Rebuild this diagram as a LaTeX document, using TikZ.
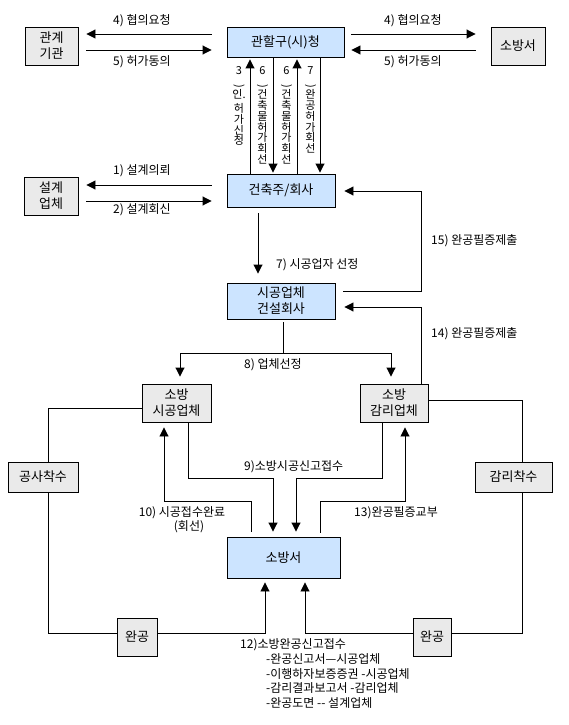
\documentclass[tikz,border=0pt]{standalone}
\usepackage{fontspec}
\setmainfont{Noto Sans CJK KR}
\usepackage{graphicx}
\usetikzlibrary{arrows.meta}
\definecolor{boxblue}{RGB}{204,228,255}
\definecolor{boxgray}{RGB}{234,234,234}
\begin{document}
\begin{tikzpicture}[x=1pt,y=-1pt,
  every node/.style={inner sep=0pt},
  base/.style={draw, line width=0.9pt, align=center, font=\fontsize{13}{16}\selectfont},
  bluebox/.style={base, fill=boxblue},
  graybox/.style={base, fill=boxgray},
  conn/.style={line width=0.9pt},
  arr/.style={conn, -{Triangle[length=9pt,width=9pt]}},
  lab/.style={font=\fontsize{12}{14}\selectfont},
  vlab/.style={font=\fontsize{11}{10.8}\selectfont, align=center, anchor=north},
]
\useasboundingbox (0,0) rectangle (568,725);
\fill[white] (0,0) rectangle (568,725);

% boxes
\node[graybox, minimum width=53pt, minimum height=38pt] (gwangye) at (51.5,46) {관계\\기관};
\node[bluebox, minimum width=117pt, minimum height=30pt] (gwanhal) at (285.5,42) {관할구(시)청};
\node[graybox, minimum width=54pt, minimum height=38pt] (sobang1) at (518,46) {소방서};
\node[graybox, minimum width=54pt, minimum height=38pt] (seolgye) at (51,196) {설계\\업체};
\node[bluebox, minimum width=108pt, minimum height=33pt] (geonchuk) at (281,190.5) {건축주/회사};
\node[bluebox, minimum width=108pt, minimum height=36pt] (sigong) at (281,301) {시공업체\\건설회사};
\node[graybox, minimum width=69pt, minimum height=38pt] (sbsigong) at (176.5,403) {소방\\시공업체};
\node[graybox, minimum width=68pt, minimum height=38pt] (sbgamri) at (394,403) {소방\\감리업체};
\node[graybox, minimum width=70pt, minimum height=30pt] (gongsa) at (43,477) {공사착수};
\node[graybox, minimum width=77pt, minimum height=30pt] (gamri) at (513.5,477) {감리착수};
\node[bluebox, minimum width=113pt, minimum height=41pt] (sobang2) at (283.5,557.5) {소방서};
\node[graybox, minimum width=40pt, minimum height=38pt] (wan1) at (137,637) {완공};
\node[graybox, minimum width=38pt, minimum height=38pt] (wan2) at (432,637) {완공};

% top horizontal arrows
\draw[arr, shorten <=15pt, shorten >=8pt] (gwanhal.west |- 0,34) -- (gwangye.east |- 0,34);
\draw[arr, shorten <=8pt, shorten >=15pt] (gwangye.east |- 0,50) -- (gwanhal.west |- 0,50);
\draw[arr, shorten <=7pt, shorten >=15pt] (gwanhal.east |- 0,34) -- (sobang1.west |- 0,34);
\draw[arr, shorten <=15pt, shorten >=7pt] (sobang1.west |- 0,50) -- (gwanhal.east |- 0,50);
\node[lab] (t4a) at (142,21) {4) 협의요청};
\node[lab] (t5a) at (142,62) {5) 허가동의};
\node[lab] (t4b) at (413,21) {4) 협의요청};
\node[lab] (t5b) at (413,62) {5) 허가동의};

% design arrows
\draw[arr, shorten <=15pt, shorten >=8pt] (geonchuk.west |- 0,185) -- (seolgye.east |- 0,185);
\draw[arr, shorten <=8pt, shorten >=15pt] (seolgye.east |- 0,201) -- (geonchuk.west |- 0,201);
\node[lab] (t1) at (142,171) {1) 설계의뢰};
\node[lab] (t2) at (142,210) {2) 설계회신};

% vertical arrows between gwanhal and geonchuk
\draw[arr, shorten >=2pt] (geonchuk.north -| 250,0) -- (gwanhal.south -| 250,0);
\draw[arr, shorten >=1pt] (gwanhal.south -| 273,0) -- (geonchuk.north -| 273,0);
\draw[arr, shorten >=2pt] (geonchuk.north -| 297,0) -- (gwanhal.south -| 297,0);
\draw[arr, shorten >=1pt] (gwanhal.south -| 320,0) -- (geonchuk.north -| 320,0);
\node[vlab] (l3) at (239,66) {3\\\rotatebox{-90}{)}\\인.\\[3pt]허\\가\\신\\청};
\node[vlab] (l6a) at (262.5,66) {6\\\rotatebox{-90}{)}\\건\\축\\물\\허\\가\\회\\선};
\node[vlab] (l6b) at (286.5,66) {6\\\rotatebox{-90}{)}\\건\\축\\물\\허\\가\\회\\선};
\node[vlab] (l7) at (310.5,66) {7\\\rotatebox{-90}{)}\\완\\공\\허\\가\\회\\선};

% 7) selection
\draw[arr, shorten <=6pt, shorten >=9pt] (geonchuk.south -| 258,0) -- (sigong.north -| 258,0);
\node[lab, anchor=west] (t7) at (276,265) {7) 시공업자 선정};

% 15) and 14)
\draw[arr, shorten <=8pt, shorten >=9pt] (sigong.east |- 0,291) -- (421,291) -- (421,191) -- (geonchuk.east |- 0,191);
\draw[arr, shorten >=9pt] (sbgamri.north -| 421,0) -- (421,307) -- (sigong.east |- 0,307);
\node[lab, anchor=west] (t15) at (431,241) {15) 완공필증제출};
\node[lab, anchor=west] (t14) at (431,334) {14) 완공필증제출};

% 8) selection
\coordinate (j8) at (283,353);
\draw[conn, shorten <=3pt] (sigong.south -| 283,0) -- (j8);
\draw[arr, shorten >=7pt] (j8) -| (sbsigong.north -| 180,0);
\draw[arr, shorten >=7pt] (j8) -| (sbgamri.north -| 391,0);
\node[lab, anchor=west] (t8) at (244,365) {8) 업체선정};

% construction / supervision loops
\draw[conn] (sbsigong.west |- 0,408) -| (gongsa.north -| 48,0);
\draw[conn] (gongsa.south -| 48,0) |- ([yshift=4pt]wan1.west);
\draw[arr, shorten >=4pt] ([yshift=4pt]wan1.east) -| (sobang2.south -| 265,0);
\draw[conn] (sbgamri.east |- 0,400) -| (gamri.north -| 522,0);
\draw[conn] (gamri.south -| 522,0) |- ([yshift=4pt]wan2.east);
\draw[arr, shorten >=4pt] ([yshift=4pt]wan2.west) -| (sobang2.south -| 305,0);

% 9) report
\draw[arr, shorten >=5pt] (sbsigong.south -| 188,0) |- (273,478) -- (sobang2.north -| 273,0);
\draw[arr, shorten >=5pt] (sbgamri.south -| 382,0) |- (296,478) -- (sobang2.north -| 296,0);
\node[lab, anchor=west] (t9) at (244,467) {9)소방시공신고접수};

% 10) and 13)
\draw[arr, shorten <=5pt, shorten >=5pt] (sobang2.north -| 251,0) -- (251,501) -| (sbsigong.south -| 164,0);
\draw[arr, shorten <=4pt, shorten >=5pt] (sobang2.north -| 320,0) -- (320,501) -| (sbgamri.south -| 405,0);
\node[lab] (t10) at (182,513) {10) 시공접수완료};
\node[lab] (t10b) at (189,527) {(회선)};
\node[lab, anchor=west] (t13) at (354,513) {13)완공필증교부};

% 12) list
\node[lab, anchor=west] (t12) at (240,645) {12)소방완공신고접수};
\node[lab, anchor=west] (t12a) at (266,659.5) {-완공신고서—시공업체};
\node[lab, anchor=west] (t12b) at (266,674) {-이행하자보증증권 -시공업체};
\node[lab, anchor=west] (t12c) at (266,688.5) {-감리결과보고서 -감리업체};
\node[lab, anchor=west] (t12d) at (266,703) {-완공도면 -{}- 설계업체};
\end{tikzpicture}
\end{document}
